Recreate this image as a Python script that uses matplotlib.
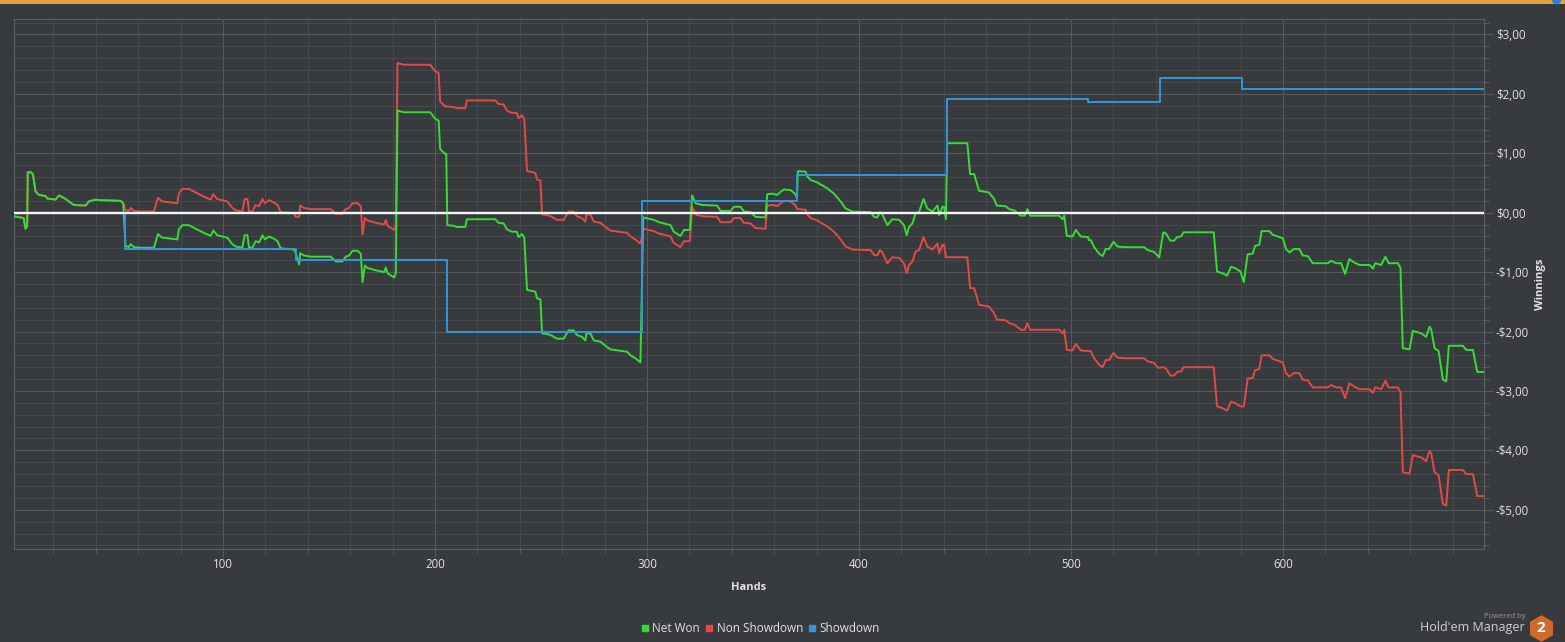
import matplotlib
matplotlib.use("Agg")
import matplotlib.pyplot as plt
from matplotlib.ticker import MultipleLocator, FuncFormatter
from matplotlib.lines import Line2D
from matplotlib.patches import Rectangle

plt.rcParams['font.family'] = ['Open Sans', 'DejaVu Sans']

# ---------------- data ----------------
series_names = ["Net Won", "Non Showdown", "Showdown"]

ns_hands = [1.3, 6.0, 6.8, 7.6, 7.9, 9.5, 10.4, 11.5, 13.1, 16.3, 17.1, 21.0, 22.6, 24.9, 27.3, 29.6, 35.2, 36.7, 39.9, 42.2, 51.7, 52.9,
            54.0, 55.6, 56.4, 58.0, 61.1, 67.4, 69.3, 71.3, 78.4, 79.2, 80.8, 83.9, 87.1, 91.0, 94.2, 95.4, 97.3, 99.7, 102.0, 104.4, 106.0,
            109.1, 110.2, 111.5, 112.3, 113.8, 115.4, 117.0, 118.6, 119.7, 121.7, 124.1, 125.7, 127.2, 133.5, 134.3, 135.9, 136.4, 138.2,
            141.4, 150.8, 153.2, 156.3, 157.9, 159.5, 161.1, 163.4, 165.0, 165.8, 166.9, 168.1, 172.1, 176.0, 176.8, 177.6, 180.7, 181.5,
            182.3, 185.1, 197.7, 200.1, 201.7, 202.4, 204.8, 208.7, 210.3, 214.3, 215.0, 228.4, 230.0, 232.4, 233.9, 236.3, 238.6, 239.4,
            241.0, 242.1, 243.4, 247.3, 248.1, 249.7, 250.5, 252.8, 255.2, 257.5, 260.7, 263.0, 265.4, 267.0, 269.3, 270.9, 271.4, 273.3,
            274.9, 278.0, 281.1, 282.7, 290.6, 292.2, 294.5, 296.9,
            298.2, 303.2, 305.6, 307.9, 311.1, 312.6, 315.8, 317.4, 320.2, 321.3, 322.9, 326.0, 333.1, 334.7, 339.4, 341.0, 344.1, 345.7,
            348.8, 351.2, 355.9, 356.7, 359.1, 361.4, 363.0, 364.6, 367.7, 370.1, 370.9, 374.8, 375.6, 377.2, 380.3, 385.0, 388.2, 391.3,
            393.7, 396.8, 405.5, 407.1, 408.6, 409.9, 411.0, 413.4, 415.7, 418.9, 421.2, 422.5, 423.6, 425.2, 426.7, 428.3, 430.4, 432.2,
            434.6, 437.0, 437.8, 439.3, 440.1, 441.0,
            451.1, 452.4, 454.3, 456.6, 461.3, 463.7, 465.0, 469.2, 470.8, 473.1, 476.3, 478.2, 479.4, 480.7, 494.4, 496.0, 496.8, 498.0,
            500.7, 502.3, 504.6, 509.3, 510.9, 513.3, 514.9, 516.4, 518.0, 520.0, 521.9, 525.1, 534.5, 536.1, 539.2, 541.1,
            543.5, 544.8, 546.8, 548.7, 550.0, 551.9, 553.1, 567.3, 568.9, 571.5, 573.6, 575.5, 577.8, 579.9, 581.5, 583.3, 585.7, 586.8,
            588.8, 589.9, 593.6, 595.1, 597.5, 599.9, 601.4, 603.0, 605.1, 607.7, 609.3, 611.7, 614.0, 621.1, 622.7, 625.1, 627.4, 629.3,
            631.3, 633.7, 636.1, 640.8, 642.4, 643.5, 646.3, 648.3, 649.8, 654.2, 655.4, 656.5, 659.7, 661.2, 665.2, 667.5, 669.1, 669.9,
            671.5, 673.4, 675.4, 677.0, 678.2, 684.9, 686.4, 689.6, 691.6, 695.0]
ns_values = [-0.06, -0.09, -0.27, -0.23, 0.68, 0.68, 0.64, 0.36, 0.30, 0.28, 0.24, 0.22, 0.29, 0.25, 0.19, 0.13, 0.12, 0.19, 0.22, 0.21, 0.20, 0.16,
             0.05, 0.03, 0.08, 0.03, 0.02, 0.02, 0.25, 0.19, 0.16, 0.33, 0.40, 0.40, 0.34, 0.27, 0.22, 0.31, 0.23, 0.21, 0.19, 0.08, 0.04,
             0.02, 0.23, 0.23, 0.02, 0.02, 0.13, 0.11, 0.23, 0.16, 0.21, 0.17, 0.13, 0.01, -0.01, -0.07, -0.07, 0.12, 0.08,
             0.06, 0.06, -0.02, -0.02, 0.06, 0.08, 0.16, 0.16, 0.11, -0.37, -0.09, -0.13, -0.17, -0.20, -0.12, -0.22, -0.29, -0.22,
             2.52, 2.49, 2.49, 2.38, 2.35, 1.87, 1.79, 1.78, 1.76, 1.76, 1.89, 1.89, 1.83, 1.82, 1.72, 1.68, 1.68, 1.59,
             1.64, 1.58, 0.70, 0.67, 0.56, 0.54, -0.03, -0.04, -0.07, -0.12, -0.12, 0.02, 0.02, -0.06, -0.09, -0.15, -0.03, -0.03,
             -0.15, -0.17, -0.26, -0.30, -0.34, -0.40, -0.45, -0.52,
             -0.27, -0.31, -0.35, -0.37, -0.40, -0.51, -0.58, -0.48, -0.48, 0.10, -0.03, -0.06, -0.07, -0.16, -0.16, -0.09, -0.09, -0.17,
             -0.18, -0.26, -0.27, 0.12, 0.13, 0.11, 0.16, 0.20, 0.19, 0.12, 0.06, 0.05, -0.03, -0.09, -0.13, -0.23, -0.32, -0.45,
             -0.57, -0.62, -0.63, -0.71, -0.72, -0.63, -0.67, -0.85, -0.75, -0.76, -0.85, -1.02, -0.88, -0.82, -0.65, -0.63, -0.41, -0.57,
             -0.62, -0.52, -0.68, -0.54, -0.54, -0.75,
             -0.75, -1.27, -1.27, -1.55, -1.58, -1.69, -1.80, -1.81, -1.86, -1.88, -1.97, -1.97, -1.86, -1.97, -1.97, -2.03, -1.97, -2.31,
             -2.32, -2.21, -2.32, -2.33, -2.45, -2.56, -2.60, -2.48, -2.48, -2.36, -2.44, -2.45, -2.45, -2.50, -2.53, -2.61,
             -2.60, -2.62, -2.74, -2.74, -2.68, -2.67, -2.60, -2.60, -3.26, -3.29, -3.33, -3.18, -3.21, -3.26, -3.26, -2.79, -2.78, -2.65,
             -2.63, -2.40, -2.40, -2.46, -2.49, -2.52, -2.70, -2.76, -2.70, -2.70, -2.81, -2.82, -2.94, -2.94, -2.90, -2.94, -2.94, -3.12,
             -2.87, -2.93, -2.97, -2.97, -3.03, -2.94, -2.97, -2.83, -2.94, -2.94, -3.02, -4.37, -4.39, -4.08, -4.12, -4.18, -4.01, -4.05,
             -4.37, -4.42, -4.90, -4.93, -4.33, -4.33, -4.40, -4.40, -4.77, -4.77]

net_hands = [1.3, 6.0, 6.8, 7.6, 7.9, 9.5, 10.4, 11.5, 13.1, 16.3, 17.1, 21.0, 22.6, 24.9, 27.3, 29.6, 35.2, 36.7, 39.9, 42.2, 51.7, 52.9,
             54.0, 55.6, 56.4, 58.0, 61.1, 67.4, 69.3, 71.3, 78.4, 79.2, 80.8, 83.9, 87.1, 91.0, 94.2, 95.4, 97.3, 99.7, 102.0, 104.4, 106.0,
             109.1, 110.2, 111.5, 112.3, 113.8, 115.4, 117.0, 118.6, 119.7, 121.7, 124.1, 125.7, 127.2, 133.5, 134.3, 135.9, 136.4, 138.2,
             141.4, 150.8, 153.2, 156.3, 157.9, 159.5, 161.1, 163.4, 165.0, 165.8, 166.9, 168.1, 172.1, 176.0, 176.8, 177.6, 180.7, 181.5,
             182.3, 185.1, 197.7, 200.1, 201.7, 202.4, 204.8, 205.3, 205.8, 208.7, 210.3, 214.3, 215.0, 228.4, 230.0, 232.4, 233.9, 236.3,
             238.6, 239.4, 241.0, 242.1, 243.4, 247.3, 248.1, 249.7, 250.5, 252.8, 255.2, 257.5, 260.7, 263.0, 265.4, 267.0, 269.3, 270.9,
             271.4, 273.3, 274.9, 278.0, 281.1, 282.7, 290.6, 292.2, 294.5, 296.9,
             298.2, 303.2, 305.6, 307.9, 311.1, 312.6, 315.8, 317.4, 320.2, 321.3, 322.9, 326.0, 333.1, 334.7, 339.4, 341.0, 344.1, 345.7,
             348.8, 351.2, 355.9, 356.7, 359.1, 361.4, 363.0, 364.6, 367.7, 370.1, 370.7, 371.2, 374.8, 375.6, 377.2, 380.3, 385.0, 388.2,
             391.3, 393.7, 396.8, 405.5, 407.1, 408.6, 409.9, 411.0, 413.4, 415.7, 418.9, 421.2, 422.5, 423.6, 425.2, 426.7, 428.3, 430.4,
             432.2, 434.6, 437.0, 437.8, 439.3, 440.1, 441.0, 441.6,
             451.1, 452.4, 454.3, 456.6, 461.3, 463.7, 465.0, 469.2, 470.8, 473.1, 476.3, 478.2, 479.4, 480.7, 494.4, 496.0, 496.8, 498.0,
             500.7, 502.3, 504.6, 508.0, 508.4, 509.3, 510.9, 513.3, 514.9, 516.4, 518.0, 520.0, 521.9, 525.1, 534.5, 536.1, 539.2, 541.6,
             543.5, 544.8, 546.8, 548.7, 550.0, 551.9, 553.1, 567.3, 568.9, 571.5, 573.6, 575.5, 577.8, 579.9, 581.5, 583.3, 585.7, 586.8,
             588.8, 589.9, 593.6, 595.1, 597.5, 599.9, 601.4, 603.0, 605.1, 607.7, 609.3, 611.7, 614.0, 621.1, 622.7, 625.1, 627.4, 629.3,
             631.3, 633.7, 636.1, 640.8, 642.4, 643.5, 646.3, 648.3, 649.8, 654.2, 655.4, 656.5, 659.7, 661.2, 665.2, 667.5, 669.1, 669.9,
             671.5, 673.4, 675.4, 677.0, 678.2, 684.9, 686.4, 689.6, 691.6, 695.0]
net_values = [-0.06, -0.09, -0.27, -0.23, 0.68, 0.68, 0.64, 0.36, 0.30, 0.28, 0.24, 0.22, 0.29, 0.25, 0.19, 0.13, 0.12, 0.19, 0.22, 0.21, 0.20, 0.16,
              -0.56, -0.58, -0.53, -0.58, -0.59, -0.59, -0.36, -0.42, -0.45, -0.28, -0.21, -0.21, -0.27, -0.34, -0.39, -0.30, -0.38, -0.40, -0.42, -0.53, -0.57,
              -0.59, -0.38, -0.38, -0.59, -0.59, -0.48, -0.50, -0.38, -0.45, -0.40, -0.44, -0.48, -0.60, -0.62, -0.68, -0.87, -0.68, -0.72,
              -0.74, -0.74, -0.82, -0.82, -0.74, -0.72, -0.64, -0.64, -0.69, -1.17, -0.89, -0.93, -0.97, -1.00, -0.92, -1.02, -1.09, -1.02,
              1.72, 1.69, 1.69, 1.58, 1.55, 1.07, 0.99, 0.99, -0.21, -0.22, -0.24, -0.24, -0.11, -0.11, -0.17, -0.18, -0.28, -0.32,
              -0.32, -0.41, -0.36, -0.42, -1.30, -1.33, -1.44, -1.46, -2.03, -2.04, -2.07, -2.12, -2.12, -1.98, -1.98, -2.06, -2.09, -2.15,
              -2.03, -2.03, -2.15, -2.17, -2.26, -2.30, -2.34, -2.40, -2.45, -2.52,
              -0.08, -0.12, -0.16, -0.18, -0.21, -0.32, -0.39, -0.29, -0.29, 0.29, 0.16, 0.13, 0.12, 0.03, 0.03, 0.10, 0.10, 0.02,
              0.01, -0.07, -0.08, 0.31, 0.32, 0.30, 0.35, 0.39, 0.38, 0.31, 0.25, 0.70, 0.69, 0.61, 0.55, 0.51, 0.41, 0.32,
              0.19, 0.07, 0.02, 0.01, -0.07, -0.08, 0.01, -0.03, -0.21, -0.11, -0.12, -0.21, -0.38, -0.24, -0.18, -0.01, 0.01, 0.23,
              0.07, 0.02, 0.12, -0.04, 0.10, 0.10, -0.11, 1.17,
              1.17, 0.65, 0.65, 0.37, 0.34, 0.23, 0.12, 0.11, 0.06, 0.04, -0.05, -0.05, 0.06, -0.05, -0.05, -0.11, -0.05, -0.39,
              -0.40, -0.29, -0.40, -0.41, -0.46, -0.46, -0.58, -0.69, -0.73, -0.61, -0.61, -0.49, -0.57, -0.58, -0.58, -0.63, -0.66, -0.75,
              -0.33, -0.35, -0.47, -0.47, -0.41, -0.40, -0.33, -0.33, -0.99, -1.02, -1.06, -0.91, -0.94, -0.99, -1.17, -0.70, -0.69, -0.56,
              -0.54, -0.31, -0.31, -0.37, -0.40, -0.43, -0.61, -0.67, -0.61, -0.61, -0.72, -0.73, -0.85, -0.85, -0.81, -0.85, -0.85, -1.03,
              -0.78, -0.84, -0.88, -0.88, -0.94, -0.85, -0.88, -0.74, -0.85, -0.85, -0.93, -2.28, -2.30, -1.99, -2.03, -2.09, -1.92, -1.96,
              -2.28, -2.33, -2.81, -2.84, -2.24, -2.24, -2.31, -2.31, -2.68, -2.68]

sd_hands = [1.3, 53.7, 134.5, 205.5, 297.8, 370.9, 441.4, 508.0, 542.0, 580.5, 695.0]
sd_values = [0.00, -0.61, -0.80, -2.00, 0.19, 0.64, 1.92, 1.87, 2.27, 2.09, 2.09]

x_ticks = [100, 200, 300, 400, 500, 600]
y_ticks = [-5, -4, -3, -2, -1, 0, 1, 2, 3]

# ---------------- style ----------------
W, H = 1565, 642
BG = "#383b3e"
GRID_MAJ = "#56595d"
GRID_MIN = "#45484c"
TXT = "#e2e2e2"
C_NET = "#36dc36"
C_NS = "#e24a4a"
C_SD = "#3396dc"

fig = plt.figure(figsize=(W / 100, H / 100), dpi=100, facecolor=BG)
ax = fig.add_axes([14 / W, 1 - 549 / H, 1470 / W, 530 / H])
ax.set_facecolor(BG)
ax.set_xlim(1.4, 694.8)
ax.set_ylim(-5.66, 3.26)

ax.set_xticks(x_ticks)
ax.xaxis.set_minor_locator(MultipleLocator(20))
ax.set_yticks(y_ticks)
ax.yaxis.set_minor_locator(MultipleLocator(0.2))
ax.yaxis.tick_right()


def money(v, pos):
    s = "-" if v < -1e-9 else ""
    return s + "\\$" + ("%.2f" % abs(v)).replace(".", ",")


ax.yaxis.set_major_formatter(FuncFormatter(money))
ax.grid(which="major", color=GRID_MAJ, lw=0.8)
ax.grid(which="minor", color=GRID_MIN, lw=0.75)
ax.set_axisbelow(True)

ax.tick_params(axis="y", which="major", length=6.5, width=0.75, color=GRID_MAJ, pad=2,
               labelcolor=TXT, labelsize=8.3)
ax.tick_params(axis="y", which="minor", length=3.5, width=0.75, color=GRID_MAJ)
ax.tick_params(axis="x", which="major", length=6, width=0.75, color=GRID_MAJ, pad=0.8,
               labelcolor=TXT, labelsize=8.3)
ax.tick_params(axis="x", which="minor", length=3, width=0.75, color=GRID_MAJ)
for sp in ax.spines.values():
    sp.set_color("#5c5f63")
    sp.set_linewidth(0.8)

ax.plot(ns_hands, ns_values, color=C_NS, lw=1.4, zorder=3, solid_joinstyle="round")
ax.plot(net_hands, net_values, color=C_NET, lw=1.4, zorder=3.5, solid_joinstyle="round")
ax.plot(sd_hands, sd_values, color=C_SD, lw=1.4, zorder=4, drawstyle="steps-post")
ax.axhline(0, color="#f5f5f5", lw=1.7, zorder=6)

fig.text(749 / W, 1 - 587 / H, "Hands", ha="center", va="center", color=TXT,
         fontsize=8, fontweight="bold")
fig.text(1540 / W, 1 - 284 / H, "Winnings", ha="center", va="center", rotation=90,
         color=TXT, fontsize=8, fontweight="bold")

handles = [Line2D([], [], marker="s", ls="none", color=c, markersize=4.5)
           for c in (C_NET, C_NS, C_SD)]
fig.legend(handles, series_names, loc="center", bbox_to_anchor=(761 / W, 1 - 629 / H),
           ncol=3, frameon=False, fontsize=8.5, labelcolor=TXT, handlelength=0.5,
           handletextpad=0.35, columnspacing=0.55, borderpad=0)

# top orange bar and corner icon
fig.add_artist(Rectangle((0, 1 - 4 / H), 1, 4 / H, transform=fig.transFigure,
                         facecolor="#e6a23c", edgecolor="none"))
fig.add_artist(Line2D([1556 / W], [1 + 1 / H], marker="o", markersize=6,
                      color="#2f80d0", transform=fig.transFigure, clip_on=False))

# branding
fig.text(1526 / W, 1 - 617 / H, "Powered by", ha="right", va="center", color="#9a9a9a",
         fontsize=5.5)
fig.text(1525 / W, 1 - 627.5 / H, "Hold'em Manager", ha="right", va="center",
         color="#cfcfcf", fontsize=9)
fig.add_artist(Line2D([1541 / W], [1 - 627.5 / H], marker="h", markersize=18,
                      color="#cf6a2c", ls="none", transform=fig.transFigure))
fig.text(1541 / W, 1 - 627.5 / H, "2", ha="center", va="center", color="white",
         fontsize=11, fontweight="bold")

fig.savefig("out.png", dpi=100, facecolor=BG)
